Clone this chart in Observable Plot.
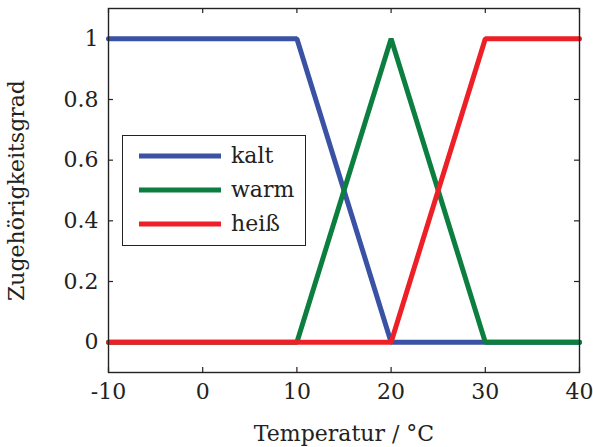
<!DOCTYPE html>
<html>
<head>
<meta charset="utf-8">
<script src="https://cdn.jsdelivr.net/npm/d3@7"></script>
<script src="https://cdn.jsdelivr.net/npm/@observablehq/plot@0.6"></script>
<style>
  body { margin: 0; background: #fff; }
  #wrap { position: relative; width: 593px; height: 447px; font-family: "DejaVu Serif", serif; }
  #legend { position: absolute; left: 122px; top: 135px; width: 182px; height: 109px; border: 1.4px solid #222; background: #fff; }
</style>
</head>
<body>
<div id="wrap"></div>
<script>
// Data
const temps = [-10, 10, 20, 30, 40];
const kalt  = [1, 1, 0, 0, 0];
const warm  = [0, 0, 1, 0, 0];
const heiss = [0, 0, 0, 1, 1];
const seriesNames = ["kalt", "warm", "heiß"];
const seriesColors = ["#3a52a4", "#0c7f40", "#ed1f27"];
const xTicks = [-10, 0, 10, 20, 30, 40];
const yTicks = [0, 0.2, 0.4, 0.6, 0.8, 1];
const xLabel = "Temperatur / °C";
const yLabel = "Zugehörigkeitsgrad";

const seriesValues = [kalt, warm, heiss];
const rows = [];
seriesNames.forEach((name, i) => {
  temps.forEach((t, j) => rows.push({series: name, t, v: seriesValues[i][j]}));
});

const W = 593, H = 447, mL = 108, mR = 14, mT = 8, mB = 75;
const fh = H - mT - mB, fw = W - mL - mR;
const tl = 5;
const fs = 22;
const ff = '"DejaVu Serif", serif';

const lineMarks = seriesNames.map((name, i) =>
  Plot.line(rows.filter(r => r.series === name), {x: "t", y: "v", stroke: seriesColors[i], strokeWidth: 5, strokeLinejoin: "miter"})
);

const chart = Plot.plot({
  width: W, height: H,
  marginLeft: mL, marginRight: mR, marginTop: mT, marginBottom: mB,
  style: {fontFamily: ff, fontSize: fs + "px", color: "#222", background: "#fff"},
  x: {domain: [-10, 40]},
  y: {domain: [-0.1, 1.1]},
  marks: [
    Plot.tickX(xTicks, {x: d => d, insetTop: fh - tl, stroke: "#222", strokeWidth: 1.2}),
    Plot.tickX(xTicks, {x: d => d, insetBottom: fh - tl, stroke: "#222", strokeWidth: 1.2}),
    Plot.tickY(yTicks, {y: d => d, insetRight: fw - tl, stroke: "#222", strokeWidth: 1.2}),
    Plot.tickY(yTicks, {y: d => d, insetLeft: fw - tl, stroke: "#222", strokeWidth: 1.2}),
    Plot.axisX({ticks: xTicks, tickSize: 0, tickPadding: 11, tickFormat: d => String(d), fontSize: fs, fontFamily: ff,
      label: xLabel, labelAnchor: "center", labelOffset: 68, labelArrow: "none"}),
    Plot.axisY({ticks: yTicks, tickSize: 0, tickPadding: 10, tickFormat: d => String(d), fontSize: fs, fontFamily: ff,
      label: yLabel, labelAnchor: "center", labelOffset: 100, labelArrow: "none"}),
    ...lineMarks,
    Plot.frame({stroke: "#222", strokeWidth: 1.4})
  ]
});
const wrap = document.getElementById("wrap");
wrap.appendChild(chart);

// Legend
const leg = document.createElement("div");
leg.id = "legend";
const ns = "http://www.w3.org/2000/svg";
const svg = document.createElementNS(ns, "svg");
svg.setAttribute("width", 182); svg.setAttribute("height", 109);
const offs = [20, 54, 88];
seriesNames.forEach((name, i) => {
  const ln = document.createElementNS(ns, "line");
  ln.setAttribute("x1", 16); ln.setAttribute("x2", 98);
  ln.setAttribute("y1", offs[i]); ln.setAttribute("y2", offs[i]);
  ln.setAttribute("stroke", seriesColors[i]); ln.setAttribute("stroke-width", 5);
  svg.appendChild(ln);
  const tx = document.createElementNS(ns, "text");
  tx.setAttribute("x", 108); tx.setAttribute("y", offs[i]); tx.setAttribute("dy", "0.32em");
  tx.setAttribute("font-size", fs); tx.setAttribute("fill", "#222");
  tx.setAttribute("font-family", ff);
  tx.textContent = name;
  svg.appendChild(tx);
});
leg.appendChild(svg);
wrap.appendChild(leg);
</script>
</body>
</html>
